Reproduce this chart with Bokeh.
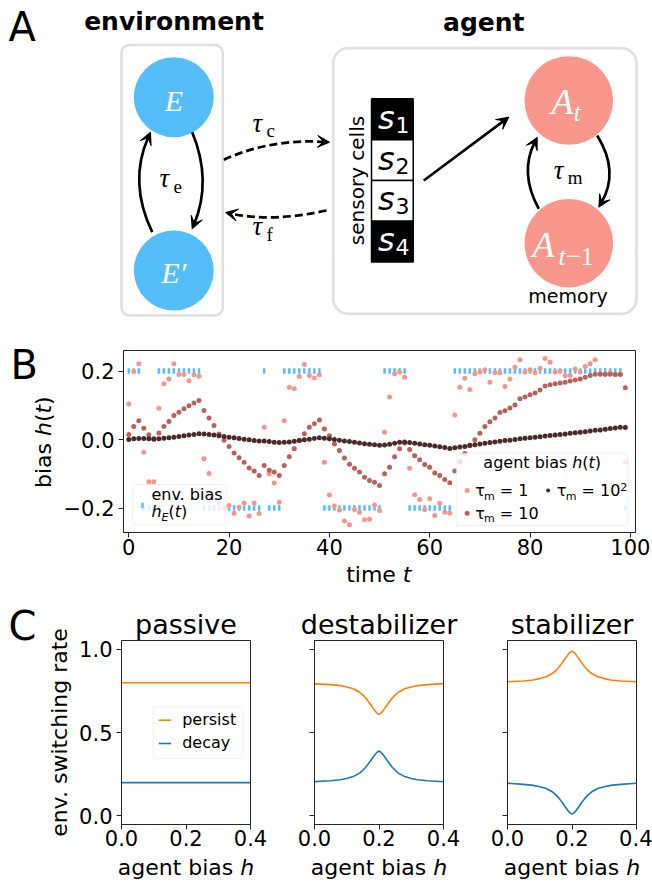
import math
from bokeh.plotting import figure
from bokeh.layouts import column, row
from bokeh.models import (Range1d, Label, BoxAnnotation, Arrow, VeeHead, Title,
                          FixedTicker, CustomJSTickFormatter)
from bokeh.embed import file_html
from bokeh.resources import INLINE

# ---------------- data ----------------
TIME = list(range(100))

ENV_BIAS = [0.2, 0.2, 0.2, -0.2, -0.2, -0.2, 0.2, 0.2, 0.2, 0.2,
            0.2, 0.2, 0.2, 0.2, 0.2, -0.2, -0.2, -0.2, -0.2, -0.2,
            -0.2, -0.2, -0.2, -0.2, -0.2, -0.2, -0.2, 0.2, -0.2, -0.2,
            -0.2, 0.2, 0.2, 0.2, 0.2, 0.2, 0.2, 0.2, 0.2, -0.2,
            -0.2, -0.2, -0.2, -0.2, -0.2, -0.2, -0.2, -0.2, -0.2, -0.2,
            -0.2, 0.2, 0.2, 0.2, 0.2, 0.2, -0.2, -0.2, -0.2, -0.2,
            -0.2, -0.2, -0.2, -0.2, -0.2, 0.2, 0.2, 0.2, 0.2, 0.2,
            0.2, 0.2, 0.2, 0.2, 0.2, 0.2, 0.2, 0.2, 0.2, 0.2,
            0.2, 0.2, 0.2, 0.2, 0.2, 0.2, 0.2, 0.2, 0.2, 0.2,
            0.2, 0.2, 0.2, 0.2, 0.2, 0.2, 0.2, 0.2, 0.2, -0.2]

AGENT_TAU1 = [0.104, 0.199, 0.221, -0.037, -0.123, -0.123, 0.091, 0.163, 0.177, 0.221,
              0.190, 0.190, 0.172, 0.189, 0.185, -0.056, -0.099, -0.160, -0.185, -0.200,
              -0.193, -0.215, -0.198, -0.185, -0.223, -0.185, -0.216, 0.036, -0.101, -0.127,
              -0.183, 0.055, 0.153, 0.148, 0.184, 0.219, 0.187, 0.180, 0.189, -0.066,
              -0.162, -0.194, -0.206, -0.238, -0.249, -0.204, -0.212, -0.234, -0.233, -0.191,
              -0.207, 0.021, 0.124, 0.192, 0.197, 0.182, -0.084, -0.161, -0.175, -0.204,
              -0.173, -0.222, -0.186, -0.212, -0.215, 0.072, 0.153, 0.179, 0.146, 0.192,
              0.197, 0.204, 0.167, 0.195, 0.195, 0.155, 0.177, 0.211, 0.233, 0.197,
              0.204, 0.195, 0.208, 0.237, 0.226, 0.197, 0.200, 0.187, 0.187, 0.206,
              0.197, 0.214, 0.221, 0.233, 0.193, 0.190, 0.195, 0.190, 0.192, -0.066]

AGENT_TAU10 = [0.015, 0.038, 0.055, 0.033, 0.014, 0.003, 0.019, 0.038, 0.053, 0.070,
               0.080, 0.090, 0.099, 0.107, 0.114, 0.085, 0.063, 0.041, 0.016, -0.002,
               -0.020, -0.039, -0.053, -0.066, -0.083, -0.092, -0.105, -0.076, -0.090, -0.095,
               -0.105, -0.076, -0.050, -0.027, -0.003, 0.017, 0.036, 0.046, 0.057, 0.031,
               0.011, -0.013, -0.032, -0.054, -0.072, -0.084, -0.095, -0.110, -0.120, -0.125,
               -0.134, -0.100, -0.081, -0.050, -0.027, -0.010, -0.029, -0.047, -0.059, -0.073,
               -0.081, -0.098, -0.105, -0.117, -0.126, -0.092, -0.065, -0.041, -0.018, -0.001,
               0.018, 0.038, 0.052, 0.063, 0.079, 0.084, 0.092, 0.101, 0.119, 0.124,
               0.131, 0.136, 0.145, 0.156, 0.160, 0.163, 0.165, 0.167, 0.171, 0.174,
               0.177, 0.182, 0.187, 0.191, 0.191, 0.191, 0.191, 0.190, 0.190, 0.151]

AGENT_TAU100 = [0.000, 0.002, 0.003, 0.003, 0.002, 0.001, 0.002, 0.004, 0.005, 0.007,
                0.009, 0.011, 0.013, 0.015, 0.017, 0.016, 0.015, 0.013, 0.011, 0.009,
                0.007, 0.005, 0.003, 0.001, -0.001, -0.003, -0.004, -0.004, -0.006, -0.008,
                -0.009, -0.008, -0.007, -0.005, -0.003, -0.001, 0.001, 0.003, 0.005, 0.004,
                0.002, 0.000, -0.002, -0.004, -0.006, -0.008, -0.010, -0.012, -0.014, -0.015,
                -0.017, -0.016, -0.014, -0.011, -0.008, -0.007, -0.009, -0.011, -0.013, -0.015,
                -0.017, -0.019, -0.021, -0.023, -0.026, -0.024, -0.022, -0.020, -0.017, -0.015,
                -0.013, -0.011, -0.009, -0.007, -0.005, -0.003, -0.002, 0.000, 0.002, 0.004,
                0.005, 0.007, 0.008, 0.010, 0.012, 0.013, 0.015, 0.016, 0.018, 0.020,
                0.021, 0.023, 0.025, 0.027, 0.028, 0.030, 0.032, 0.034, 0.036, 0.035]

B_XTICKS = [0, 20, 40, 60, 80, 100]
B_YTICKS = [-0.2, 0.0, 0.2]

H_BIAS = [0.0, 0.05, 0.08, 0.10, 0.12, 0.14, 0.15, 0.16, 0.17, 0.18, 0.19, 0.195, 0.2,
          0.205, 0.21, 0.22, 0.23, 0.24, 0.25, 0.26, 0.28, 0.30, 0.32, 0.35, 0.4]
PASSIVE_H = [0.0, 0.4]
PASSIVE_PERSIST = [0.8, 0.8]
PASSIVE_DECAY = [0.2, 0.2]
DESTAB_PERSIST = [0.793, 0.789, 0.783, 0.775, 0.764, 0.743, 0.726, 0.705, 0.680, 0.652, 0.625, 0.616, 0.610,
                  0.616, 0.625, 0.652, 0.680, 0.705, 0.726, 0.743, 0.764, 0.775, 0.783, 0.789, 0.795]
DESTAB_DECAY = [0.206, 0.211, 0.217, 0.225, 0.236, 0.257, 0.274, 0.295, 0.320, 0.348, 0.375, 0.384, 0.390,
                0.384, 0.375, 0.348, 0.320, 0.295, 0.274, 0.257, 0.236, 0.225, 0.217, 0.211, 0.205]
STAB_PERSIST = [0.806, 0.811, 0.817, 0.825, 0.836, 0.857, 0.874, 0.895, 0.920, 0.948, 0.975, 0.984, 0.990,
                0.984, 0.975, 0.948, 0.920, 0.895, 0.874, 0.857, 0.836, 0.825, 0.817, 0.811, 0.806]
STAB_DECAY = [0.196, 0.189, 0.183, 0.175, 0.164, 0.143, 0.126, 0.105, 0.080, 0.052, 0.025, 0.016, 0.010,
              0.016, 0.025, 0.052, 0.080, 0.105, 0.126, 0.143, 0.164, 0.175, 0.183, 0.189, 0.196]
C_XTICKS = [0.0, 0.2, 0.4]
C_YTICKS = [0.0, 0.5, 1.0]
C_TITLES = ["passive", "destabilizer", "stabilizer"]

# ---------------- style ----------------
BLUE = "#56BDFB"
PINK = "#F3968C"
MID = "#B3645F"
DARK = "#4B2929"
SALMON = "#F9978C"
GRAY = "#979797"
ORANGE = "#FF7F0E"
TBLUE = "#1F77B4"
SPINE = "#262626"
FONT = "DejaVu Sans"
SERIF = "Liberation Serif"
MIDK = {FONT: 0.346, SERIF: 0.338}   # baseline -> em-box middle, in em

DV = {' ': 0.318, 'a': 0.613, 'b': 0.635, 'c': 0.550, 'd': 0.635, 'e': 0.615, 'g': 0.635,
      'h': 0.634, 'i': 0.278, 'l': 0.278, 'm': 0.974, 'n': 0.634, 'o': 0.612, 'p': 0.635,
      'r': 0.411, 's': 0.521, 't': 0.392, 'v': 0.592, 'w': 0.818, 'y': 0.592, '(': 0.390,
      ')': 0.390, '.': 0.318, '=': 0.838, 'E': 0.632, 'τ': 0.56, '−': 0.838}
for _d in "0123456789":
    DV[_d] = 0.636


def tw(text, size):
    return sum(DV.get(c, 0.6) for c in text) * size


def ident(v):
    return v


def put(fig, x, y, text, size, color="black", font=FONT, style="normal", align="left",
        baseline="alphabetic", angle=0.0, mx=ident, my=ident):
    """(x, y) in page pixels; for 'alphabetic' it is the baseline point."""
    if baseline == "alphabetic":
        k = MIDK.get(font, 0.34) * size
        if angle == 0.0:
            y = y - k
        else:
            x = x - k
    fig.add_layout(Label(x=mx(x), y=my(y), text=text, text_font=font, text_font_size=f"{size}px",
                         text_font_style=style, text_color=color, text_align=align,
                         text_baseline="middle", angle=angle))


def _items(pieces):
    items, total = [], 0.0
    for p in pieces:
        if isinstance(p, (int, float)):
            items.append((None, p))
            total += p
        else:
            w = tw(p[0], p[1])
            items.append((p, w))
            total += w
    return items, total


def hrun(fig, x, y, pieces, align="left", color="black", mx=ident, my=ident):
    items, total = _items(pieces)
    pos = x - total / 2 if align == "center" else x
    for p, w in items:
        if p is not None:
            text, size, style, dy = p
            put(fig, pos, y + dy, text, size, color=color, style=style, mx=mx, my=my)
        pos += w


def vrun(fig, x, y, pieces, color="black", mx=ident, my=ident):
    items, total = _items(pieces)
    pos = y + total / 2
    for p, w in items:
        if p is not None:
            text, size, style, dy = p
            put(fig, x + dy, pos, text, size, color=color, style=style, angle=math.pi / 2, mx=mx, my=my)
        pos -= w


def canvas(w, h, x0, y0):
    """Frame-only figure whose data units are page pixels (y downwards)."""
    f = figure(width=w, height=h, x_range=Range1d(x0, x0 + w), y_range=Range1d(y0 + h, y0),
               output_backend="svg", toolbar_location=None, min_border=0,
               x_axis_location=None, y_axis_location=None)
    f.outline_line_color = None
    f.grid.visible = False
    return f


# ---------------- panel A (diagram) ----------------
pa = canvas(652, 335, 0, 0)

pa.add_layout(BoxAnnotation(left=121.0, right=222.3, top=44.3, bottom=315.0, fill_color=None,
                            line_color=GRAY, line_width=2.7, border_radius=8))
pa.add_layout(BoxAnnotation(left=332.7, right=636.0, top=47.7, bottom=313.3, fill_color=None,
                            line_color=GRAY, line_width=2.7, border_radius=15))

pa.circle(x=[173.3, 173.3], y=[96.7, 270.0], radius=40, fill_color=BLUE, line_color=None)
pa.circle(x=[568.3, 568.3], y=[100.0, 242.7], radius=44.3, fill_color=SALMON, line_color=None)

CELL_TOP, CELL_H = 98.3, 40.83
cell_tops = [CELL_TOP + i * CELL_H for i in range(4)]
pa.quad(left=[371.0] * 4, right=[412.7] * 4, top=cell_tops, bottom=[t + CELL_H for t in cell_tops],
        fill_color=["black", "white", "white", "black"], line_color="black", line_width=1.5)
for i, t in enumerate(cell_tops):
    col = "white" if i in (0, 3) else "black"
    put(pa, 377.5, t + 30.0, "s", 32, color=col, style="italic")
    put(pa, 395.0, t + 33.5, str(i + 1), 22, color=col)


def curve_arrow(fig, p0, c, tip, dash="solid", lw=2.7):
    dx, dy = tip[0] - c[0], tip[1] - c[1]
    L = math.hypot(dx, dy)
    ux, uy = dx / L, dy / L
    fig.quadratic(x0=[p0[0]], y0=[p0[1]], x1=[tip[0] - 5 * ux], y1=[tip[1] - 5 * uy],
                  cx=[c[0]], cy=[c[1]], line_color="black", line_width=lw, line_dash=dash)
    fig.add_layout(Arrow(end=VeeHead(size=12, fill_color="black", line_color="black", line_width=1),
                         x_start=tip[0] - 10 * ux, y_start=tip[1] - 10 * uy,
                         x_end=tip[0], y_end=tip[1], line_alpha=0, line_width=lw))


curve_arrow(pa, (151.7, 231.7), (127.7, 181.7), (150.0, 131.7))
curve_arrow(pa, (191.7, 131.7), (211.7, 180.0), (191.7, 228.3))
curve_arrow(pa, (538.3, 208.3), (518.5, 172.5), (536.7, 136.7))
curve_arrow(pa, (596.7, 135.0), (619.1, 171.0), (598.3, 206.7))
curve_arrow(pa, (223.3, 159.3), (270.0, 138.0), (329.0, 141.7), dash="8 4")
curve_arrow(pa, (326.0, 210.0), (272.0, 222.0), (225.0, 212.0), dash="8 4")
pa.add_layout(Arrow(end=VeeHead(size=12, fill_color="black", line_color="black", line_width=1),
                    x_start=423.3, y_start=180.0, x_end=508.3, y_end=116.7,
                    line_width=2.7, line_color="black"))

put(pa, 8, 40, "A", 40)
put(pa, 173.5, 30, "environment", 25, style="bold", align="center")
put(pa, 483.3, 30.7, "agent", 25, style="bold", align="center")
put(pa, 173.3, 110, "E", 30, color="white", font=SERIF, style="italic", align="center")
put(pa, 173.3, 281.7, "E\u2032", 30, color="white", font=SERIF, style="italic", align="center")
put(pa, 551.0, 113.3, "A", 36, color="white", font=SERIF, style="italic")
put(pa, 573.0, 121.0, "t", 26, color="white", font=SERIF, style="italic")
put(pa, 532.0, 256.7, "A", 36, color="white", font=SERIF, style="italic")
put(pa, 558.0, 265.0, "t", 26, color="white", font=SERIF, style="italic")
put(pa, 565.5, 265.0, "\u22121", 26, color="white", font=SERIF)
for (tx, ty, sub) in [(159.0, 187.0, "e"), (252.0, 131.7, "c"), (252.0, 235.0, "f"), (553.3, 178.3, "m")]:
    put(pa, tx, ty, "τ", 27, font=SERIF, style="italic")
    put(pa, tx + 14.0, ty + 5.0, sub, 19, font=SERIF)
put(pa, 356.0, 180.0, "sensory cells", 20, align="center", baseline="middle", angle=math.pi / 2)
put(pa, 567.5, 302.0, "memory", 19, align="center")


# ---------------- shared axis styling ----------------
def style_axes(f, xstandoff=1):
    f.grid.visible = False
    f.outline_line_color = SPINE
    f.outline_line_width = 1
    for ax in f.axis:
        ax.axis_line_color = SPINE
        ax.major_tick_line_color = SPINE
        ax.minor_tick_line_color = None
        ax.major_tick_out = 5
        ax.major_tick_in = 0
        ax.major_label_text_font = FONT
        ax.major_label_text_font_size = "21px"
        ax.major_label_text_color = "black"
    f.xaxis.major_label_standoff = xstandoff
    f.yaxis.major_label_standoff = 4


# ---------------- panel B ----------------
XB0, XB1 = -1.05, 101.03
YB0, YB1 = -0.2715, 0.26
FBL, FBR, FBT, FBB = 121.0, 635.0, 350.0, 532.0

pb = figure(width=592, height=228, x_range=Range1d(XB0, XB1), y_range=Range1d(YB0, YB1),
            min_border_left=61, min_border_right=17, min_border_top=15, min_border_bottom=31,
            output_backend="svg", toolbar_location=None)
style_axes(pb)
pb.xaxis.ticker = FixedTicker(ticks=B_XTICKS)
pb.yaxis.ticker = FixedTicker(ticks=B_YTICKS)
pb.xaxis.formatter = CustomJSTickFormatter(code="return tick.toFixed(0)")
pb.yaxis.formatter = CustomJSTickFormatter(
    code="var s = Math.abs(tick).toFixed(1); return tick < -1e-9 ? '\u2212' + s : s;")


def bx(px):
    return XB0 + (px - FBL) / (FBR - FBL) * (XB1 - XB0)


def by(py):
    return YB1 - (py - FBT) / (FBB - FBT) * (YB1 - YB0)


pb.rect(x=TIME, y=ENV_BIAS, width=2.5, height=5.5, width_units="screen", height_units="screen",
        fill_color=BLUE, line_color=None)
pb.scatter(TIME, AGENT_TAU1, size=5, fill_color=PINK, line_color=None)
pb.scatter(TIME, AGENT_TAU10, size=5, fill_color=MID, line_color=None)
pb.scatter(TIME, AGENT_TAU100, size=5, fill_color=DARK, line_color=None)

# legend: env bias
pb.add_layout(BoxAnnotation(left=bx(130), right=bx(224), top=by(484), bottom=by(524.3),
                            fill_color="white", fill_alpha=0.8, line_color="#cccccc",
                            line_width=1, border_radius=3))
pb.rect(x=[bx(140)], y=[by(505)], width=2.5, height=5.5, width_units="screen",
        height_units="screen", fill_color=BLUE, line_color=None, level="overlay")
put(pb, 149, 500, "env. bias", 16, mx=bx, my=by)
hrun(pb, 149, 517, [("h", 16, "italic", 0), ("E", 11, "italic", 3.5), ("(", 16, "normal", 0),
                    ("t", 16, "italic", 0), (")", 16, "normal", 0)], mx=bx, my=by)

# legend: agent bias
pb.add_layout(BoxAnnotation(left=bx(455), right=bx(627.3), top=by(452.7), bottom=by(525),
                            fill_color="white", fill_alpha=0.8, line_color="#cccccc",
                            line_width=1, border_radius=3))
pb.scatter([bx(466)], [by(490)], size=5, fill_color=PINK, line_color=None, level="overlay")
pb.scatter([bx(466)], [by(512.7)], size=5, fill_color=MID, line_color=None, level="overlay")
pb.scatter([bx(547.3)], [by(490)], size=4, fill_color=DARK, line_color=None, level="overlay")
hrun(pb, 541.3, 468, [("agent bias", 16, "normal", 0), 5.1, ("h", 16, "italic", 0),
                      ("(", 16, "normal", 0), ("t", 16, "italic", 0), (")", 16, "normal", 0)],
     align="center", mx=bx, my=by)
hrun(pb, 474, 496, [("τ", 16, "normal", 0), ("m", 11, "normal", 3.5), 5.1, ("= 1", 16, "normal", 0)],
     mx=bx, my=by)
hrun(pb, 474, 518.3, [("τ", 16, "normal", 0), ("m", 11, "normal", 3.5), 5.1, ("= 10", 16, "normal", 0)],
     mx=bx, my=by)
hrun(pb, 556, 496, [("τ", 16, "normal", 0), ("m", 11, "normal", 3.5), 5.1, ("= 10", 16, "normal", 0),
                    ("2", 11, "normal", -6)], mx=bx, my=by)

# left strip of panel B: letter and y label
cvB = canvas(60, 228, 0, 335)
put(cvB, 10, 378, "B", 40)
vrun(cvB, 51, 441.7, [("bias", 22, "normal", 0), 7.0, ("h", 22, "italic", 0),
                      ("(", 22, "normal", 0), ("t", 22, "italic", 0), (")", 22, "normal", 0)])

# ---------------- band under B: x label ----------------
cvM = canvas(652, 37, 0, 563)
hrun(cvM, 378.3, 581.5, [("time", 22, "normal", 0), 7.0, ("t", 22, "italic", 0)], align="center")

# ---------------- panel C ----------------
YC0, YC1 = -0.052, 1.054
REF_FCT, REF_FCB = 642.0, 826.0      # frame of the reference, used for in-frame positions
C_TOP, C_BOT = 40, 30
C_H = 254
C_FRAMES = [(121.0, 250.0), (314.0, 443.0), (507.0, 636.0)]


def cy(py):
    return YC1 - (py - REF_FCT) / (REF_FCB - REF_FCT) * (YC1 - YC0)


def make_c(width, mbl, mbr, show_ylabels, title):
    f = figure(width=width, height=C_H, x_range=Range1d(0, 0.4), y_range=Range1d(YC0, YC1),
               min_border_left=mbl, min_border_right=mbr, min_border_top=C_TOP, min_border_bottom=C_BOT,
               output_backend="svg", toolbar_location=None)
    f.title = Title(text=title, align="center", text_font=FONT, text_font_size="27px",
                    text_font_style="normal", text_color="black", standoff=1)
    style_axes(f, xstandoff=0)
    f.xaxis.ticker = FixedTicker(ticks=C_XTICKS)
    f.yaxis.ticker = FixedTicker(ticks=C_YTICKS)
    f.xaxis.formatter = CustomJSTickFormatter(code="return tick.toFixed(1)")
    f.yaxis.formatter = CustomJSTickFormatter(code="return tick.toFixed(1)" if show_ylabels else "return ''")
    return f


pc1 = make_c(207, 46, 32, True, C_TITLES[0])
pc2 = make_c(193, 32, 32, False, C_TITLES[1])
pc3 = make_c(177, 32, 16, False, C_TITLES[2])

pc1.line(PASSIVE_H, PASSIVE_PERSIST, line_color=ORANGE, line_width=1.6)
pc1.line(PASSIVE_H, PASSIVE_DECAY, line_color=TBLUE, line_width=1.6)
pc2.line(H_BIAS, DESTAB_PERSIST, line_color=ORANGE, line_width=1.6)
pc2.line(H_BIAS, DESTAB_DECAY, line_color=TBLUE, line_width=1.6)
pc3.line(H_BIAS, STAB_PERSIST, line_color=ORANGE, line_width=1.6)
pc3.line(H_BIAS, STAB_DECAY, line_color=TBLUE, line_width=1.6)


def cx1(px):
    return (px - 121.0) / 129.0 * 0.4


pc1.add_layout(BoxAnnotation(left=cx1(152.7), right=cx1(242.3), top=cy(708.3), bottom=cy(760),
                             fill_color="white", fill_alpha=0.8, line_color="#cccccc",
                             line_width=1, border_radius=3))
pc1.line([cx1(158.3), cx1(170.5)], [cy(721.7)] * 2, line_color=ORANGE, line_width=1.6, level="overlay")
pc1.line([cx1(158.3), cx1(170.5)], [cy(745.0)] * 2, line_color=TBLUE, line_width=1.6, level="overlay")
put(pc1, 181.7, 726.5, "persist", 16, mx=cx1, my=cy)
put(pc1, 181.7, 749.5, "decay", 16, mx=cx1, my=cy)

# left strip of panel C: letter and y label
cvC = canvas(75, C_H, 0, 600)
put(cvC, 8, 639, "C", 40)
put(cvC, 67.0, 732.0, "env. switching rate", 22, align="center", angle=math.pi / 2)

# bottom band: x labels of C
cvX = canvas(652, 26, 0, 854)
for (l, r) in C_FRAMES:
    hrun(cvX, (l + r) / 2, 874.4, [("agent bias", 22, "normal", 0), 7.0, ("h", 22, "italic", 0)],
         align="center")

layout = column(pa,
                row(column(cvB), pb),
                cvM,
                row(column(cvC), pc1, pc2, pc3),
                cvX)
open("out.html", "w").write(file_html(layout, INLINE))
